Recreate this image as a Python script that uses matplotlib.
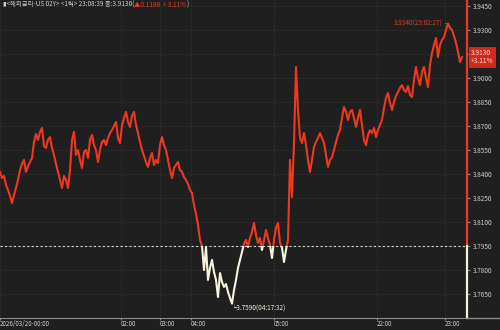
import numpy as np
import matplotlib.pyplot as plt
from matplotlib.patches import Rectangle
from matplotlib.lines import Line2D

# US 2Y yield tick chart (one value per ~2px of chart width)
prices = [
    3.8413, 3.8375, 3.8388, 3.8331, 3.8300, 3.8263, 3.8219, 3.8269, 3.8313, 3.8363,
    3.8425, 3.8463, 3.8488, 3.8413, 3.8450, 3.8475, 3.8500, 3.8600, 3.8650, 3.8613,
    3.8663, 3.8688, 3.8575, 3.8563, 3.8613, 3.8631, 3.8563, 3.8519, 3.8463, 3.8413,
    3.8363, 3.8313, 3.8388, 3.8363, 3.8313, 3.8425, 3.8613, 3.8663, 3.8519, 3.8550,
    3.8488, 3.8438, 3.8538, 3.8550, 3.8500, 3.8613, 3.8644, 3.8581, 3.8550, 3.8475,
    3.8550, 3.8600, 3.8613, 3.8581, 3.8625, 3.8656, 3.8675, 3.8700, 3.8725, 3.8625,
    3.8594, 3.8706, 3.8750, 3.8788, 3.8725, 3.8694, 3.8763, 3.8788, 3.8706, 3.8656,
    3.8600, 3.8550, 3.8513, 3.8475, 3.8444, 3.8500, 3.8531, 3.8456, 3.8488, 3.8469,
    3.8581, 3.8631, 3.8581, 3.8550, 3.8488, 3.8425, 3.8375, 3.8438, 3.8456, 3.8475,
    3.8425, 3.8413, 3.8381, 3.8363, 3.8338, 3.8300, 3.8281, 3.8206, 3.8150, 3.8081,
    3.7988, 3.7950, 3.7800, 3.7944, 3.7738, 3.7813, 3.7863, 3.7788, 3.7738, 3.7631,
    3.7781, 3.7725, 3.7694, 3.7713, 3.7663, 3.7625, 3.7590, 3.7675, 3.7738, 3.7813,
    3.7863, 3.7913, 3.7963, 3.7988, 3.7944, 3.8000, 3.8038, 3.8094, 3.8019, 3.7969,
    3.8000, 3.7925, 3.7988, 3.8050, 3.8000, 3.7956, 3.7875, 3.7988, 3.8063, 3.8094,
    3.7969, 3.7938, 3.7850, 3.7925, 3.7988, 3.8488, 3.8256, 3.8594, 3.9069, 3.8800,
    3.8625, 3.8594, 3.8656, 3.8581, 3.8488, 3.8413, 3.8488, 3.8569, 3.8600, 3.8625,
    3.8656, 3.8625, 3.8594, 3.8519, 3.8444, 3.8488, 3.8506, 3.8550, 3.8600, 3.8644,
    3.8675, 3.8750, 3.8819, 3.8788, 3.8738, 3.8788, 3.8800, 3.8750, 3.8694, 3.8750,
    3.8800, 3.8706, 3.8613, 3.8581, 3.8644, 3.8675, 3.8656, 3.8688, 3.8631, 3.8675,
    3.8706, 3.8738, 3.8813, 3.8875, 3.8906, 3.8844, 3.8800, 3.8850, 3.8888, 3.8913,
    3.8938, 3.8956, 3.8925, 3.8913, 3.8950, 3.8894, 3.8881, 3.8988, 3.9069, 3.9000,
    3.8956, 3.9038, 3.9069, 3.9000, 3.8944, 3.9081, 3.9156, 3.9206, 3.9250, 3.9131,
    3.9206, 3.9238, 3.9256, 3.9300, 3.9340, 3.9313, 3.9300, 3.9263, 3.9219, 3.9163,
    3.9100, 3.9130,
]
base = 3.7950  # previous close
tick_pos = [0, 60.5, 80, 95.5, 137, 188.5, 222.5]
tick_labels = ['2026/03/20-00:00', '02:00', '03:00', '04:00', '05:00', '22:00', '23:00']
yticks = np.arange(3.7650, 3.9451, 0.015)
t_min = '04:17:32'
t_max = '23:02:27'
last_time = '23:08:39'

BG = '#1f1f1f'
RED = '#f0381f'
CREAM = '#f6f2dc'
GRID = '#3d3d3d'
TXT = '#cfcfcf'

plt.rcParams['font.family'] = ['Noto Sans CJK KR', 'DejaVu Sans']

fig = plt.figure(figsize=(5, 3.3), dpi=100, facecolor=BG)
ax = fig.add_axes([0, 12/330, 467/500, 318/330], facecolor=BG)

x = np.arange(len(prices))
p = np.array(prices)
ax.set_xlim(0, 233.5)
ax.set_ylim(3.75, 3.94875)

# red above previous close, cream below
lr, = ax.plot(x, p, color=RED, lw=1.5, zorder=3)
lw_, = ax.plot(x, p, color=CREAM, lw=1.5, zorder=3)
lr.set_clip_path(Rectangle((-10, base), 1000, 10, transform=ax.transData))
lw_.set_clip_path(Rectangle((-10, base - 10), 1000, 10, transform=ax.transData))

ax.axhline(base, color='#d0d0d0', ls=(0, (2, 2)), lw=0.8, zorder=2)

# 3.9150 sits behind the current price box in the original
ylabels = ['' if abs(v - 3.915) < 1e-6 else f'{v:.4f}' for v in yticks]
ax.set_xticks(tick_pos, tick_labels)
ax.set_yticks(yticks, ylabels)
ax.yaxis.tick_right()
ax.grid(True, color=GRID, ls=(0, (1, 2)), lw=0.6)
ax.tick_params(axis='x', colors='#8c8c8c', labelcolor=TXT, labelsize=4.5, length=1.5, pad=0)
ax.tick_params(axis='y', colors='#8c8c8c', labelcolor=TXT, labelsize=4.6, length=2, pad=2)
for lab in ax.get_xticklabels():
    lab.set_ha('left')

for s in ['top', 'left', 'right']:
    ax.spines[s].set_visible(False)
ax.spines['bottom'].set_color('#8c8c8c')
fig.add_artist(Line2D([467/500, 1], [12/330, 12/330], color='#8c8c8c', lw=1))

frac = (base - 3.75) / (3.94875 - 3.75)
ax.axvline(233.5, ymin=frac, ymax=1, color=RED, lw=1.6, clip_on=False)
ax.axvline(233.5, ymin=0, ymax=frac, color=CREAM, lw=1.6, clip_on=False)

# max / min labels
imax = int(np.argmax(p))
imin = int(np.argmin(p))
ax.annotate(f'{p[imax]:.4f}({t_max})', xy=(imax, p[imax]), xytext=(-4, 0),
            textcoords='offset points', ha='right', va='center', color='#d04030',
            fontsize=4.6, arrowprops=dict(arrowstyle='-', color='#d04030', lw=0.6,
                                          shrinkA=0, shrinkB=0))
ax.annotate(f'└{p[imin]:.4f}({t_min})', xy=(imin, p[imin]), xytext=(-1, -1),
            textcoords='offset points', ha='left', va='top', color=CREAM, fontsize=4.6)

# current price box
last = p[-1]
chg = last - base
pct = chg / base * 100
ax.annotate(f'{last:.4f}\n+{pct:.2f}%', xy=(1, last), xycoords=('axes fraction', 'data'),
            xytext=(3, 0), textcoords='offset points', ha='left', va='center',
            fontsize=4.8, color='#ffd8d0', linespacing=1.0, annotation_clip=False,
            bbox=dict(boxstyle='square,pad=0.35', fc='#d02a1c', ec='none'), zorder=5)

# title line
t1 = fig.text(0.006, 1 - 5/330, f'▮<해외금리-US 02Y> <1틱> {last_time} 종:{last:.4f}(',
              color=TXT, fontsize=4.6, va='center')
t2 = ax.annotate(f'▲{chg:.4f}  + {pct:.2f}%', xy=(1, 0.5), xycoords=t1, va='center',
                 ha='left', color=RED, fontsize=4.6, annotation_clip=False)
ax.annotate(')', xy=(1, 0.5), xycoords=t2, va='center', ha='left', color=TXT,
            fontsize=4.6, annotation_clip=False)

fig.savefig('out.png', dpi=100, facecolor=BG)
